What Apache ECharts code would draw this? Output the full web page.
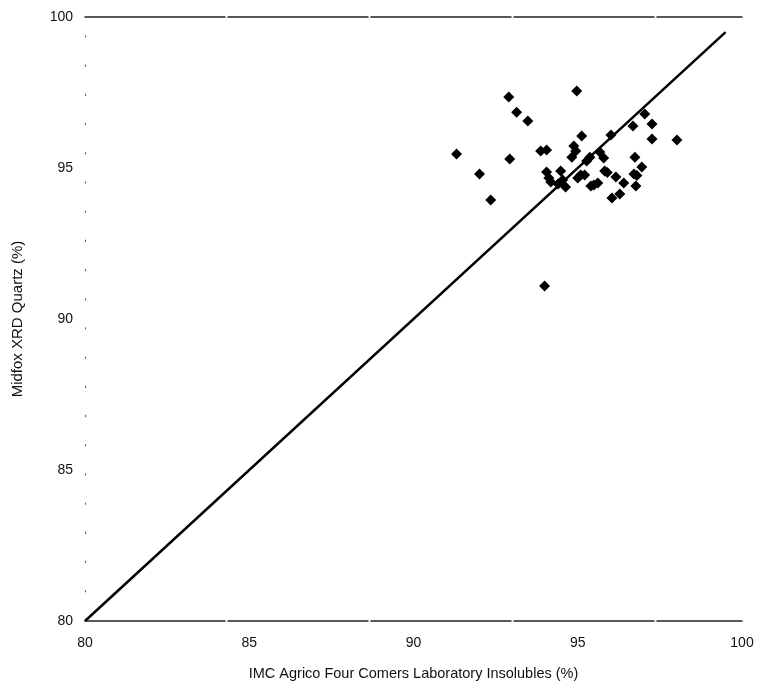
<!DOCTYPE html>
<html>
<head>
<meta charset="utf-8">
<script src="https://cdn.jsdelivr.net/npm/echarts@6/dist/echarts.min.js"></script>
<style>
  html, body { margin: 0; padding: 0; background: #fff; }
  #chart { width: 760px; height: 698px; }
</style>
</head>
<body>
<div id="chart"></div>
<script>
// Laboratory insolubles (x) vs. XRD quartz (y), both in percent
const labInsolubles = [
  91.31, 92.01, 92.35, 92.90, 93.14, 93.48, 92.93, 93.87, 94.05, 94.97,
  93.99, 95.12, 94.88, 94.94, 94.82, 95.37, 95.27, 95.67, 95.79, 96.01,
  96.68, 97.04, 97.26, 97.26, 98.02, 96.74, 96.95, 96.71, 96.77, 96.40,
  96.28, 96.04, 96.16, 95.82, 95.49, 95.61, 95.40, 95.21, 95.00, 94.48,
  94.05, 94.18, 94.54, 94.63, 94.12, 95.09, 96.80, 95.90, 94.40
];
const xrdQuartz = [
  95.46, 94.80, 93.94, 97.35, 96.85, 96.56, 95.30, 95.56, 95.60, 97.55,
  91.09, 96.06, 95.73, 95.56, 95.36, 95.36, 95.23, 95.53, 95.33, 96.09,
  96.39, 96.79, 96.46, 95.96, 95.93, 95.36, 95.03, 94.80, 94.40, 94.50,
  94.14, 94.01, 94.70, 94.90, 94.44, 94.50, 94.40, 94.77, 94.67, 94.90,
  94.87, 94.54, 94.60, 94.37, 94.67, 94.77, 94.75, 94.85, 94.47
];
// 1:1 reference line
const oneToOneX = [80, 99.5];
const oneToOneY = [80, 99.5];
const axisTicks = [80, 85, 90, 95, 100];

const points = labInsolubles.map((v, i) => [v, xrdQuartz[i]]);
const line = oneToOneX.map((v, i) => [v, oneToOneY[i]]);

const font = 'Liberation Sans, Arial, sans-serif';
const chart = echarts.init(document.getElementById('chart'), null, { renderer: 'canvas' });

chart.setOption({
  animation: false,
  backgroundColor: '#ffffff',
  grid: { left: 85, right: 18, top: 17, bottom: 77 },
  xAxis: [
    {
      type: 'value', position: 'bottom',
      min: axisTicks[0], max: axisTicks[axisTicks.length - 1], interval: 5,
      name: 'IMC Agrico Four Comers Laboratory Insolubles (%)',
      nameLocation: 'middle', nameGap: 45,
      nameTextStyle: { fontFamily: font, fontSize: 14.5, color: '#111' },
      axisLine: { show: true, lineStyle: { color: '#222', width: 1.5, type: [140, 3] } },
      axisTick: { show: false },
      axisLabel: { fontFamily: font, fontSize: 14, color: '#111', margin: 15 },
      splitLine: { show: false }
    },
    {
      type: 'value', position: 'top',
      min: axisTicks[0], max: axisTicks[axisTicks.length - 1], interval: 5,
      axisLine: { show: true, lineStyle: { color: '#222', width: 1.5, type: [140, 3] } },
      axisTick: { show: false },
      axisLabel: { show: false },
      splitLine: { show: false }
    }
  ],
  yAxis: {
    type: 'value',
    min: axisTicks[0], max: axisTicks[axisTicks.length - 1], interval: 5,
    name: 'Midfox XRD Quartz (%)',
    nameLocation: 'middle', nameGap: 60, nameRotate: 90,
    nameTextStyle: { fontFamily: font, fontSize: 15, color: '#111' },
    axisLine: { show: true, lineStyle: { color: '#666', width: 1.2, type: [1.2, 28] } },
    axisTick: { show: false },
    axisLabel: { fontFamily: font, fontSize: 14, color: '#111', margin: 12 },
    splitLine: { show: false }
  },
  series: [
    {
      type: 'line',
      data: line,
      showSymbol: false,
      lineStyle: { color: '#000', width: 2.5 },
      z: 2
    },
    {
      type: 'scatter',
      data: points,
      symbol: 'diamond',
      symbolSize: 11,
      itemStyle: { color: '#000', opacity: 1 },
      z: 3
    }
  ]
});
</script>
</body>
</html>
